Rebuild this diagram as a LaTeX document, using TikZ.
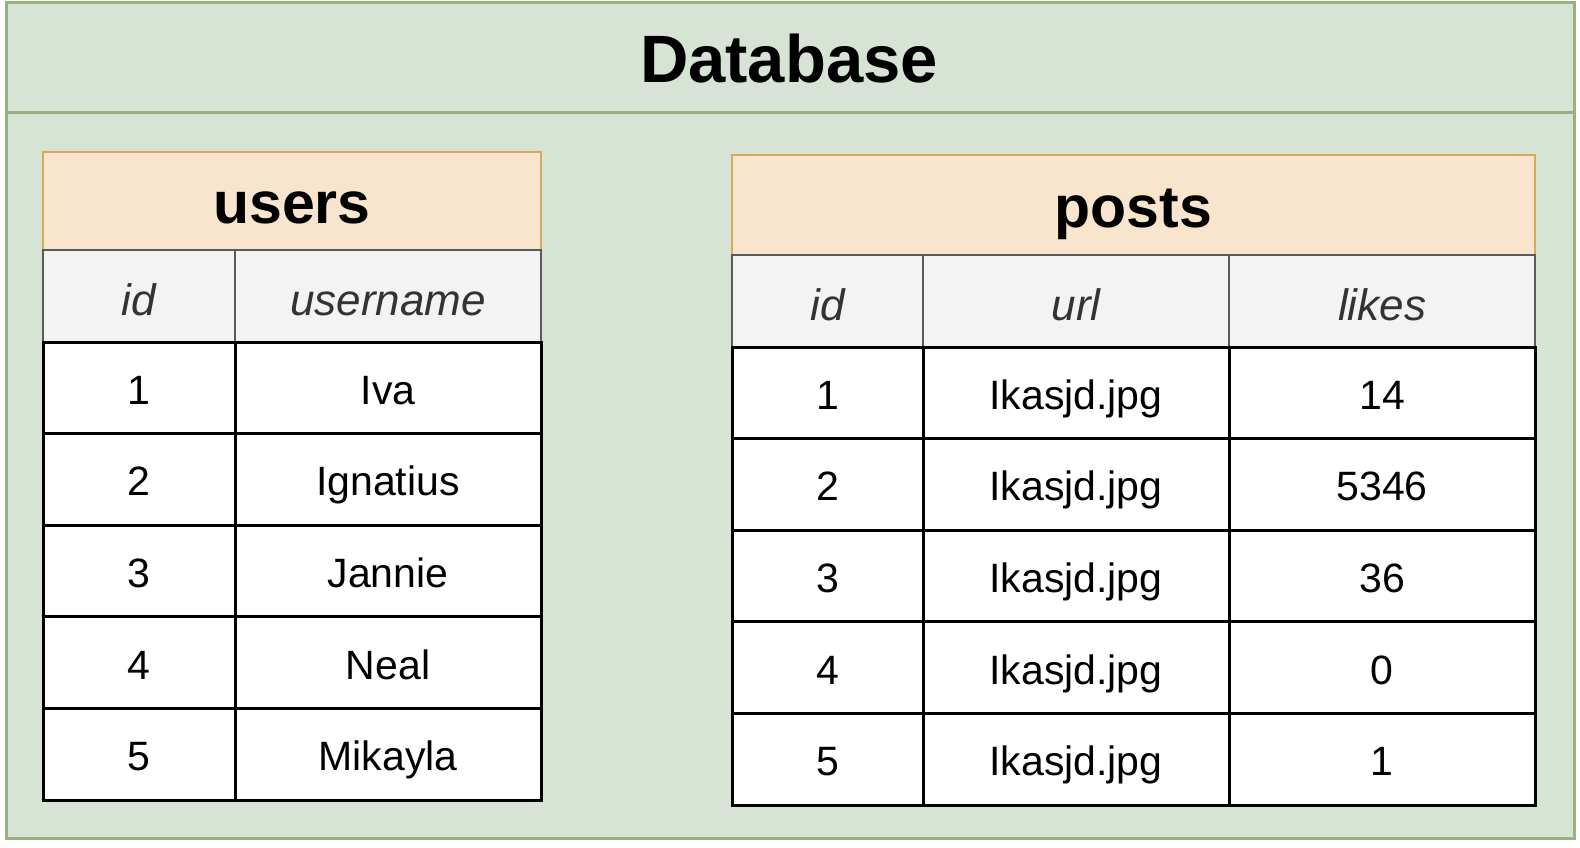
\documentclass[tikz,border=0pt]{standalone}
\usepackage{fontspec}
\setmainfont{Liberation Sans}
\definecolor{dbfill}{RGB}{215,227,213}
\definecolor{dbline}{RGB}{150,178,128}
\definecolor{tfill}{RGB}{249,229,206}
\definecolor{tline}{RGB}{214,170,90}
\definecolor{hfill}{RGB}{243,243,243}
\definecolor{hline}{RGB}{90,90,90}
\definecolor{htext}{RGB}{51,51,51}
\tikzset{
  x=1pt, y=-1pt,
  cellbase/.style={rectangle, inner sep=0pt, outer sep=0pt},
  titlecell/.style={cellbase, draw=tline, fill=tfill, line width=2.5pt, text height=56pt, text depth=12pt, font=\fontsize{59}{70}\selectfont\bfseries},
  headcell/.style={cellbase, draw=hline, fill=hfill, line width=2pt, text=htext, text height=46pt, text depth=8pt, font=\fontsize{44}{52}\selectfont\itshape},
  datacell/.style={cellbase, draw=black, fill=white, line width=3pt, text height=41pt, text depth=8.2pt, font=\fontsize{41}{49}\selectfont},
  dbtitlestyle/.style={cellbase, text height=63pt, text depth=12pt, font=\fontsize{67}{80}\selectfont\bfseries},
}
\begin{document}
\begin{tikzpicture}
\useasboundingbox[fill=white] (0,0) rectangle (1580,848);
% outer database container
\node[rectangle, draw=dbline, fill=dbfill, line width=3pt, minimum width=1568pt, minimum height=836pt, inner sep=0pt, anchor=north west] (db) at (5,1) {};
\draw[dbline, line width=3pt] (db.west |- 0,113) coordinate (sepL) -- (db.east |- 0,113) coordinate (sepR);
\node[dbtitlestyle] (dbtitle) at (789,57) {Database};

% ---------- users table ----------
\node[titlecell, minimum width=498pt, minimum height=98pt] (users) at (292,201) {users};
\node[headcell, minimum width=192pt, minimum height=92pt] (u-hid) at (139,296) {id};
\node[headcell, minimum width=306pt, minimum height=92pt] (u-hname) at (388,296) {username};
\foreach \i/\n in {1/Iva,2/Ignatius,3/Jannie,4/Neal,5/Mikayla} {
  \pgfmathsetmacro\cy{342+91.6*(\i-0.5)}
  \node[datacell, minimum width=192pt, minimum height=91.6pt] (u-id-\i) at (139,\cy) {\i};
  \node[datacell, minimum width=306pt, minimum height=91.6pt] (u-name-\i) at (388,\cy) {\n};
}

% ---------- posts table ----------
\node[titlecell, minimum width=803pt, minimum height=100pt] (posts) at (1133.5,205) {posts};
\node[headcell, minimum width=191pt, minimum height=92pt] (p-hid) at (827.5,301) {id};
\node[headcell, minimum width=306pt, minimum height=92pt] (p-hurl) at (1076,301) {url};
\node[headcell, minimum width=306pt, minimum height=92pt] (p-hlikes) at (1382,301) {likes};
\foreach \i/\l in {1/14,2/5346,3/36,4/0,5/1} {
  \pgfmathsetmacro\cy{347+91.6*(\i-0.5)}
  \node[datacell, minimum width=191pt, minimum height=91.6pt] (p-id-\i) at (827.5,\cy) {\i};
  \node[datacell, minimum width=306pt, minimum height=91.6pt] (p-url-\i) at (1076,\cy) {Ikasjd.jpg};
  \node[datacell, minimum width=306pt, minimum height=91.6pt] (p-likes-\i) at (1382,\cy) {\l};
}
\end{tikzpicture}
\end{document}
